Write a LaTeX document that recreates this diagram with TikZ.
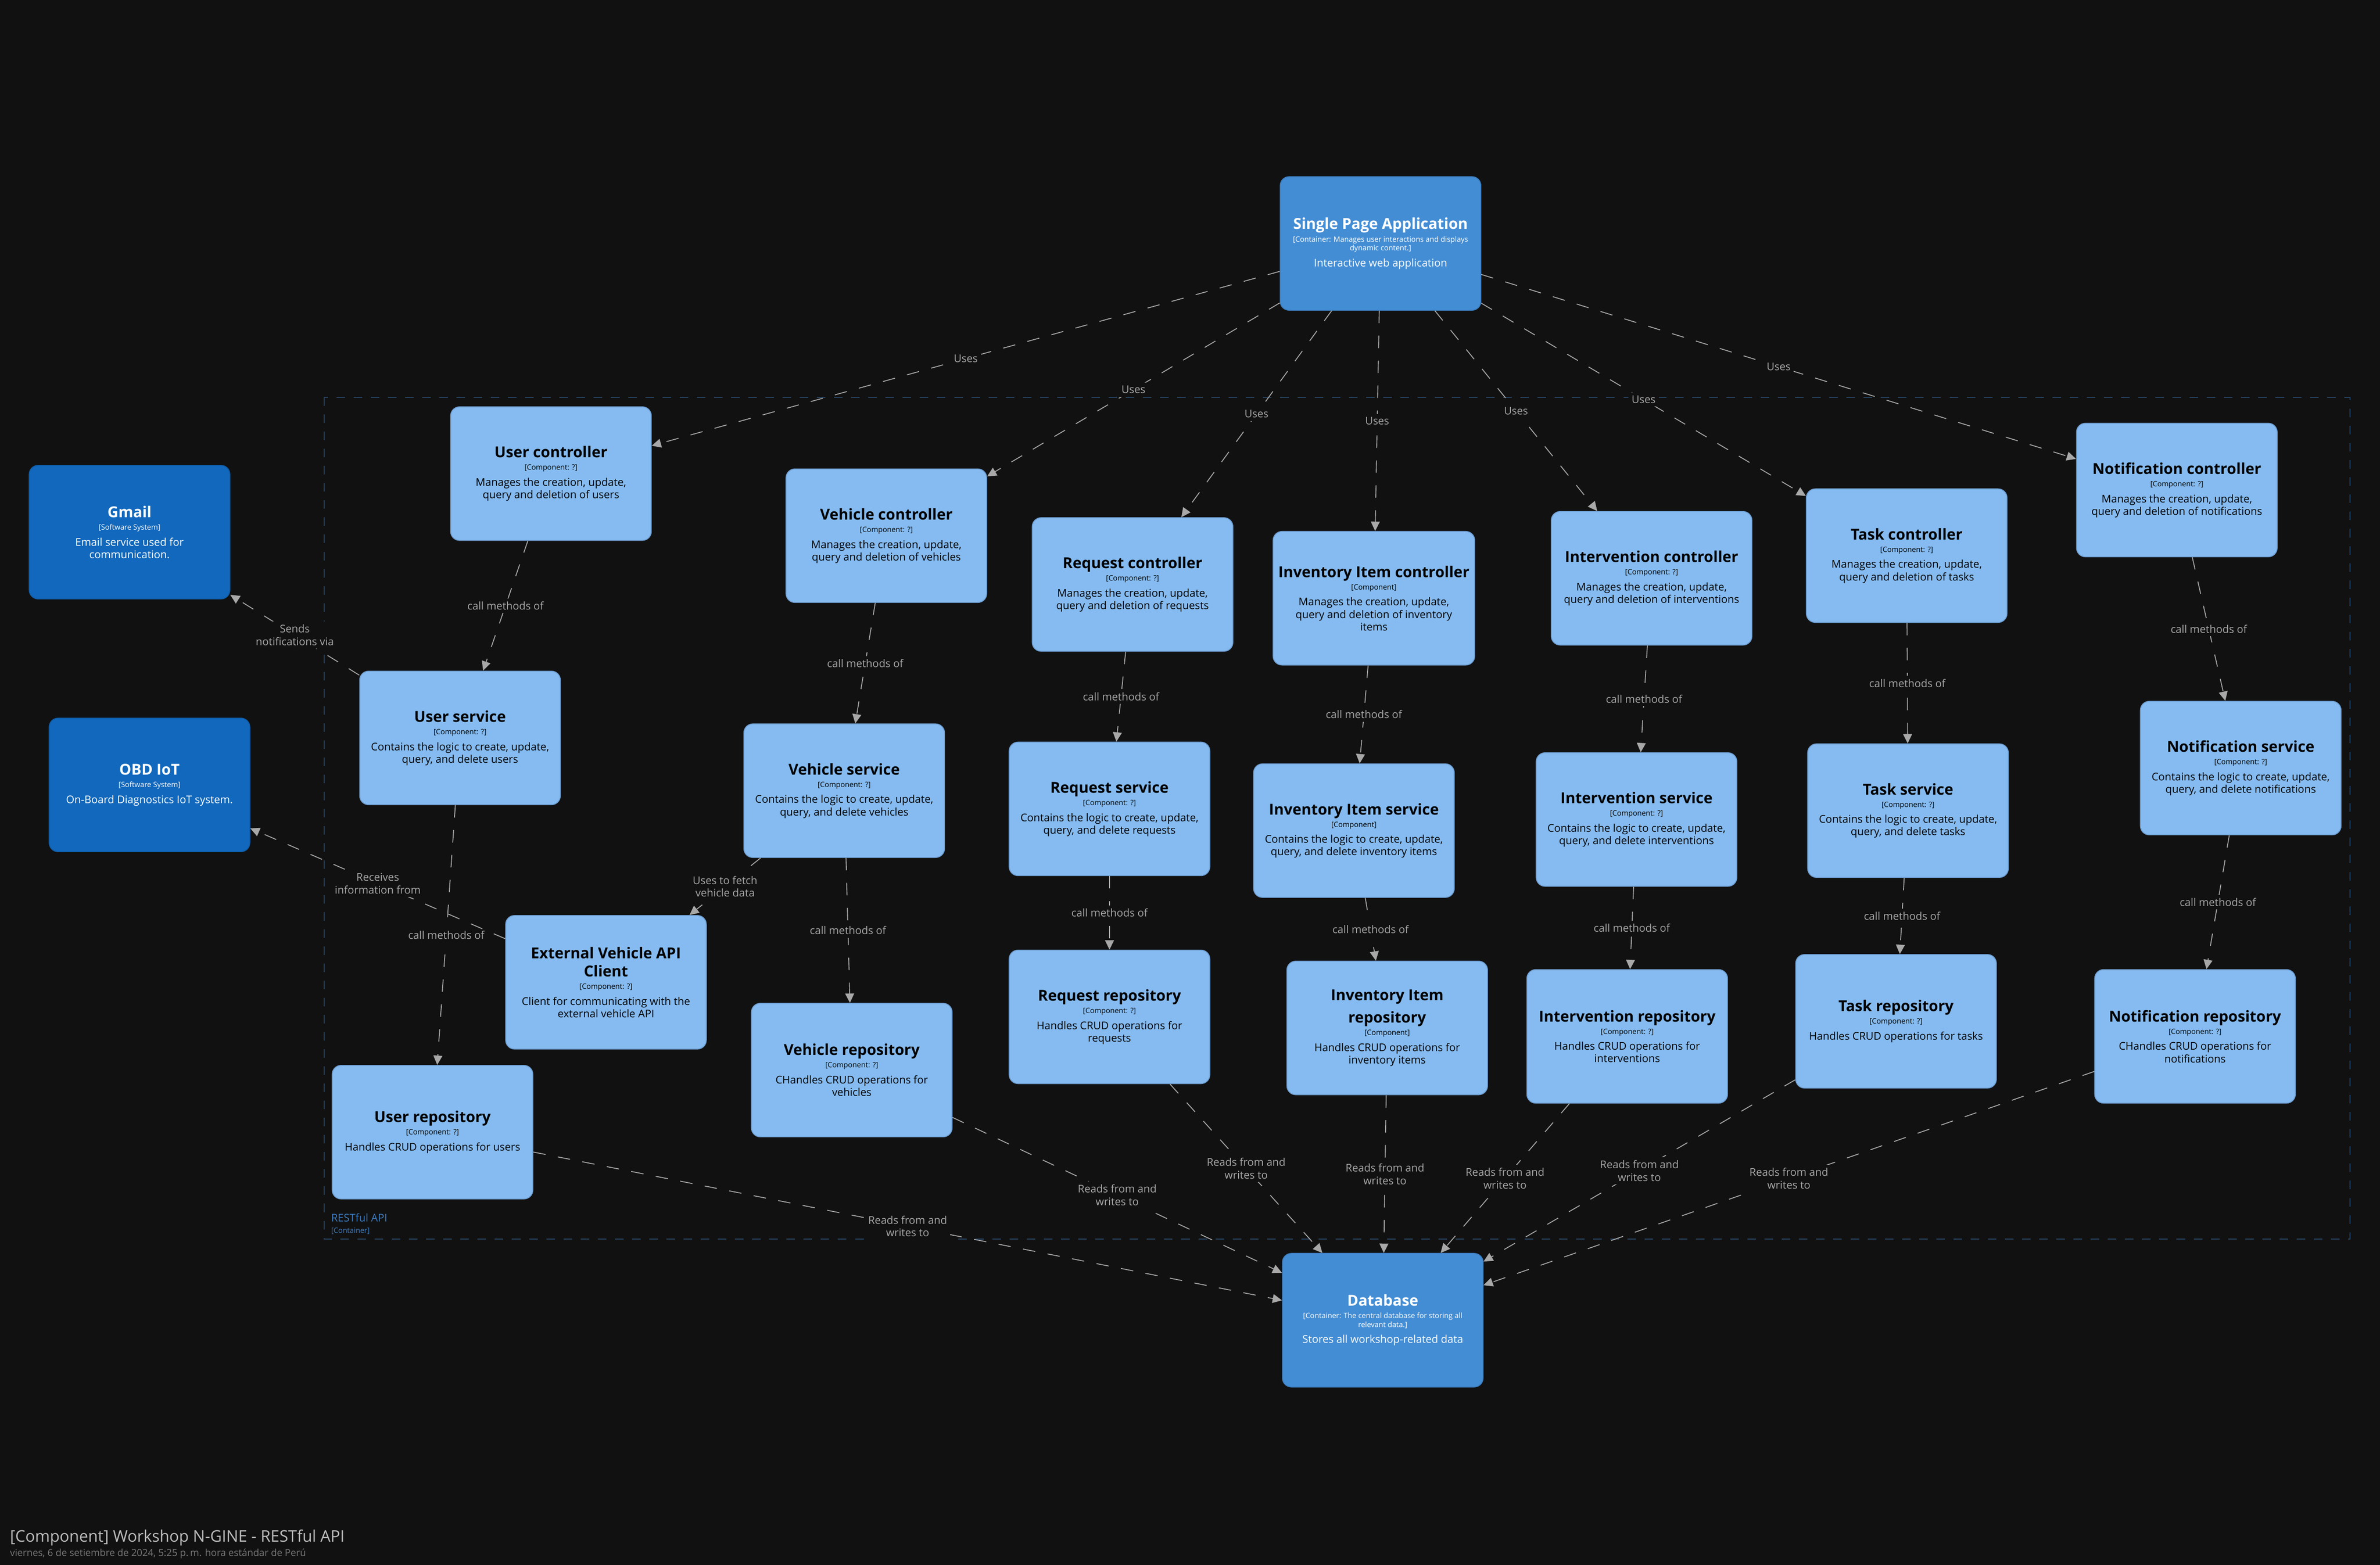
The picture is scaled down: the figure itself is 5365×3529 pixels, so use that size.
\documentclass[tikz,border=0pt]{standalone}
\usepackage{fontspec}
\setmainfont{Open Sans}
\usetikzlibrary{arrows.meta}
\definecolor{bgcol}{RGB}{17,17,17}
\definecolor{compfill}{RGB}{133,187,240}
\definecolor{compline}{RGB}{110,158,210}
\definecolor{contfill}{RGB}{67,141,213}
\definecolor{contline}{RGB}{60,126,192}
\definecolor{extfill}{RGB}{17,104,189}
\definecolor{extline}{RGB}{15,94,170}
\definecolor{relcol}{RGB}{168,168,168}
\definecolor{bndcol}{RGB}{42,72,104}
\definecolor{bndtext}{RGB}{60,125,195}
\definecolor{titlecol}{RGB}{190,190,190}
\definecolor{datecol}{RGB}{120,120,120}
\newcommand{\nm}[1]{{\fontsize{9.67}{11}\selectfont\bfseries #1}}
\newcommand{\tg}[1]{{\fontsize{4.7}{5.6}\selectfont #1}}

\begin{document}
\begin{tikzpicture}[x=0.01cm, y=-0.01cm,
    elembox/.style={rounded corners=5.7pt, minimum width=4.52cm, minimum height=3.01cm,
        line width=0.57pt, align=center, font=\fontsize{6.83}{7.97}\selectfont},
    compbox/.style={elembox, fill=compfill, draw=compline, text=black},
    contbox/.style={elembox, fill=contfill, draw=contline, text=white},
    extbox/.style={elembox, fill=extfill, draw=extline, text=white},
    rel/.style={draw=relcol, line width=0.57pt, dash pattern=on 8pt off 8pt,
        -{Triangle[length=6pt, width=5.7pt]}},
    lbl/.style={fill=bgcol, text=relcol, inner sep=2pt, align=center,
        font=\fontsize{6.83}{8.2}\selectfont}]
    \fill[bgcol] (0,0) rectangle (5365,3529);
    \useasboundingbox (0,0) rectangle (5365,3529);

    % RESTful API boundary
    \draw[bndcol, line width=0.57pt, dash pattern=on 5.5pt off 5.5pt] (731,896) rectangle (5297,2794);
    \node[anchor=base west, inner sep=0pt, text=bndtext, font=\fontsize{6.83}{8}\selectfont] (bndname) at (746,2755) {RESTful API};
    \node[anchor=base west, inner sep=0pt, text=bndtext, font=\fontsize{4.7}{5.6}\selectfont] (bndtag) at (746,2781) {[Container]};

    % Containers and external systems
    \node[contbox] (spa) at (3112,549) {\nm{Single Page Application}\\
        \tg{[Container: Manages user interactions and displays}\\[-2.4pt]\tg{dynamic content.]}\\[2.3pt]
        Interactive web application};
    \node[contbox] (db) at (3117,2977) {\nm{Database}\\
        \tg{[Container: The central database for storing all}\\[-2.4pt]\tg{relevant data.]}\\[2.3pt]
        Stores all workshop-related data};
    \node[extbox] (gmail) at (292,1200) {\nm{Gmail}\\\tg{[Software System]}\\[2.3pt]
        Email service used for\\communication.};
    \node[extbox] (obd) at (337,1770) {\nm{OBD IoT}\\\tg{[Software System]}\\[2.3pt]
        On-Board Diagnostics IoT system.};

    % Controllers
    \node[compbox] (userctl) at (1242,1068) {\nm{User controller}\\\tg{[Component: ?]}\\[2.3pt]
        Manages the creation, update,\\query and deletion of users};
    \node[compbox] (vehctl) at (1998,1208) {\nm{Vehicle controller}\\\tg{[Component: ?]}\\[2.3pt]
        Manages the creation, update,\\query and deletion of vehicles};
    \node[compbox] (reqctl) at (2553,1318) {\nm{Request controller}\\\tg{[Component: ?]}\\[2.3pt]
        Manages the creation, update,\\query and deletion of requests};
    \node[compbox] (invctl) at (3097,1349) {\nm{Inventory Item controller}\\\tg{[Component]}\\[2.3pt]
        Manages the creation, update,\\query and deletion of inventory\\items};
    \node[compbox] (intctl) at (3723,1304) {\nm{Intervention controller}\\\tg{[Component: ?]}\\[2.3pt]
        Manages the creation, update,\\query and deletion of interventions};
    \node[compbox] (taskctl) at (4298,1253) {\nm{Task controller}\\\tg{[Component: ?]}\\[2.3pt]
        Manages the creation, update,\\query and deletion of tasks};
    \node[compbox] (notctl) at (4907,1105) {\nm{Notification controller}\\\tg{[Component: ?]}\\[2.3pt]
        Manages the creation, update,\\query and deletion of notifications};

    % Services
    \node[compbox] (usersvc) at (1037,1664) {\nm{User service}\\\tg{[Component: ?]}\\[2.3pt]
        Contains the logic to create, update,\\query, and delete users};
    \node[compbox] (vehsvc) at (1903,1783) {\nm{Vehicle service}\\\tg{[Component: ?]}\\[2.3pt]
        Contains the logic to create, update,\\query, and delete vehicles};
    \node[compbox] (reqsvc) at (2501,1824) {\nm{Request service}\\\tg{[Component: ?]}\\[2.3pt]
        Contains the logic to create, update,\\query, and delete requests};
    \node[compbox] (invsvc) at (3052,1873) {\nm{Inventory Item service}\\\tg{[Component]}\\[2.3pt]
        Contains the logic to create, update,\\query, and delete inventory items};
    \node[compbox] (intsvc) at (3689,1848) {\nm{Intervention service}\\\tg{[Component: ?]}\\[2.3pt]
        Contains the logic to create, update,\\query, and delete interventions};
    \node[compbox] (tasksvc) at (4301,1828) {\nm{Task service}\\\tg{[Component: ?]}\\[2.3pt]
        Contains the logic to create, update,\\query, and delete tasks};
    \node[compbox] (notsvc) at (5051,1732) {\nm{Notification service}\\\tg{[Component: ?]}\\[2.3pt]
        Contains the logic to create, update,\\query, and delete notifications};
    \node[compbox] (extclient) at (1366,2215) {\nm{External Vehicle API}\\[3.7pt]\nm{Client}\\\tg{[Component: ?]}\\[2.3pt]
        Client for communicating with the\\external vehicle API};

    % Repositories
    \node[compbox] (userrepo) at (975,2553) {\nm{User repository}\\\tg{[Component: ?]}\\[2.3pt]
        Handles CRUD operations for users};
    \node[compbox] (vehrepo) at (1920,2413) {\nm{Vehicle repository}\\\tg{[Component: ?]}\\[2.3pt]
        CHandles CRUD operations for\\vehicles};
    \node[compbox] (reqrepo) at (2501,2293) {\nm{Request repository}\\\tg{[Component: ?]}\\[2.3pt]
        Handles CRUD operations for\\requests};
    \node[compbox] (invrepo) at (3127,2318) {\nm{Inventory Item}\\[3.7pt]\nm{repository}\\\tg{[Component]}\\[2.3pt]
        Handles CRUD operations for\\inventory items};
    \node[compbox] (intrepo) at (3668,2337) {\nm{Intervention repository}\\\tg{[Component: ?]}\\[2.3pt]
        Handles CRUD operations for\\interventions};
    \node[compbox] (taskrepo) at (4274,2303) {\nm{Task repository}\\\tg{[Component: ?]}\\[2.3pt]
        Handles CRUD operations for tasks};
    \node[compbox] (notrepo) at (4948,2337) {\nm{Notification repository}\\\tg{[Component: ?]}\\[2.3pt]
        CHandles CRUD operations for\\notifications};

    % SPA uses controllers
    \foreach \t in {userctl, vehctl, reqctl, invctl, intctl, taskctl, notctl}
        \draw[rel] (spa) -- node[lbl] (uses-\t) {Uses} (\t);

    % Controller -> service -> repository
    \foreach \a/\b in {userctl/usersvc, vehctl/vehsvc, reqctl/reqsvc, invctl/invsvc, intctl/intsvc,
            taskctl/tasksvc, notctl/notsvc, usersvc/userrepo, vehsvc/vehrepo, reqsvc/reqrepo,
            invsvc/invrepo, intsvc/intrepo, tasksvc/taskrepo, notsvc/notrepo}
        \draw[rel] (\a) -- node[lbl] (call-\a) {call methods of} (\b);

    % Repositories -> database
    \foreach \r in {userrepo, vehrepo, reqrepo, invrepo, intrepo, taskrepo, notrepo}
        \draw[rel] (\r) -- node[lbl] (rw-\r) {Reads from and\\writes to} (db);

    % External systems
    \draw[rel] (usersvc) -- node[lbl] (sends) {Sends\\notifications via} (gmail);
    \draw[rel] (extclient) -- node[lbl] (receives) {Receives\\information from} (obd);
    \draw[rel] (vehsvc) -- node[lbl] (fetch) {Uses to fetch\\vehicle data} (extclient);

    % Footer
    \node[anchor=base west, inner sep=0pt, text=titlecol, font=\fontsize{10.24}{12}\selectfont] (title) at (22,3477)
        {[Component] Workshop N-GINE - RESTful API};
    \node[anchor=base west, inner sep=0pt, text=datecol, font=\fontsize{6.2}{7.5}\selectfont] (date) at (22,3509)
        {viernes, 6 de setiembre de 2024, 5:25 p.\,m. hora estándar de Perú};
\end{tikzpicture}
\end{document}
